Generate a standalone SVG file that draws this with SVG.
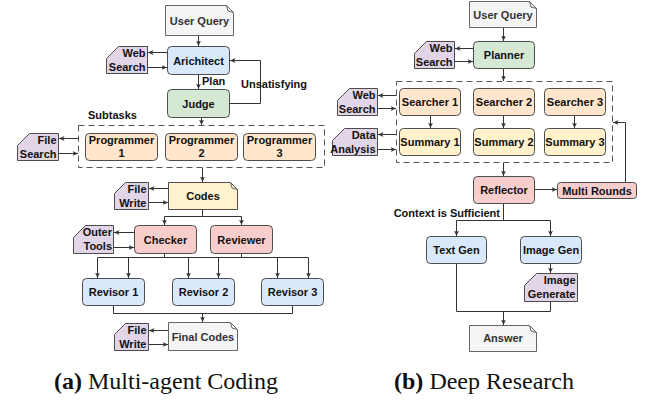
<svg xmlns="http://www.w3.org/2000/svg" width="645" height="402" viewBox="0 0 645 402">
  <style>
    .box { stroke: #4d4d4d; stroke-width: 1; }
    .gray { fill: #f5f5f5; stroke: #666666; }
    .blue { fill: #dae8fc; }
    .green { fill: #d5e8d4; }
    .orange { fill: #ffe6cc; }
    .yellow { fill: #fff2cc; }
    .red { fill: #f8cecc; }
    .purple { fill: #e1d5e7; }
    .fold { fill: none; stroke: #666666; stroke-width: 1; }
    .t { font-family: "Liberation Sans", Arial, sans-serif; font-weight: bold; font-size: 11px; fill: #111111; text-anchor: middle; }
    .tn { fill: #333333; }
    .tr { text-anchor: end; }
    .tl { text-anchor: start; }
    .edge { fill: none; stroke: #333333; stroke-width: 1; }
    .arr { marker-end: url(#ah); }
    .dash { fill: none; stroke: #555555; stroke-width: 1; stroke-dasharray: 6 4; }
    .cap { font-family: "Liberation Serif", "Times New Roman", serif; font-size: 24px; fill: #111111; text-anchor: middle; }
  </style>
  <defs>
    <marker id="ah" markerWidth="6" markerHeight="6" refX="5.5" refY="3" orient="auto" markerUnits="userSpaceOnUse">
      <path d="M0,0.5 L5.5,3 L0,5.5 L1.5,3 Z" fill="#333333"/>
    </marker>
  </defs>

  <rect width="645" height="402" fill="#ffffff"/>

  <!-- ===== (a) Multi-agent Coding ===== -->
  <g id="connectors-a">
    <path class="edge arr" d="M198.5,35.5 V46"/>
    <path class="edge arr" d="M167,52.5 H148"/>
    <path class="edge arr" d="M147.5,67.5 H167"/>
    <path class="edge arr" d="M198.5,74.5 V89"/>
    <path class="edge arr" d="M229.5,103.5 H260.5 V60.5 H230"/>
    <path class="edge arr" d="M201.5,117.5 V125"/>
    <path class="edge arr" d="M78.5,138.5 H59"/>
    <path class="edge arr" d="M58.5,153.5 H78"/>
    <path class="edge arr" d="M202.5,167.5 V182"/>
    <path class="edge arr" d="M168.5,188.5 H149"/>
    <path class="edge arr" d="M148.5,202.5 H168"/>
    <path class="edge arr" d="M202.5,209.5 V216.5 H164.5 V225"/>
    <path class="edge arr" d="M202.5,216.5 H241.5 V225"/>
    <path class="edge arr" d="M134.5,232.5 H114"/>
    <path class="edge arr" d="M113.5,247.5 H134"/>
    <path class="edge" d="M164.5,253.5 V257.5 M241.5,253.5 V257.5 M97.5,257.5 H308.5"/>
    <path class="edge arr" d="M97.5,257.5 V278"/>
    <path class="edge arr" d="M128.5,257.5 V278"/>
    <path class="edge arr" d="M188.5,257.5 V278"/>
    <path class="edge arr" d="M218.5,257.5 V278"/>
    <path class="edge arr" d="M277.5,257.5 V278"/>
    <path class="edge arr" d="M308.5,257.5 V278"/>
    <path class="edge" d="M113.5,305.5 V313.5 H292.5 V305.5"/>
    <path class="edge arr" d="M202.5,313.5 V322"/>
    <path class="edge arr" d="M168.5,330.5 H149"/>
    <path class="edge arr" d="M148.5,344.5 H168"/>
    <text class="t tl" x="202" y="85">Plan</text>
    <text class="t tl" x="241" y="88">Unsatisfying</text>
    <text class="t tl" x="88" y="119">Subtasks</text>
  </g>

  <g id="user-query-a">
    <path class="box gray" d="M165.5,5.5 H226.5 L233.5,12.5 V35.5 H165.5 Z"/>
    <path class="fold" d="M226.5,5.5 L228,11 L233.5,12.5"/>
    <text class="t tn" x="199.5" y="24.5">User Query</text>
  </g>
  <g id="web-search-a">
    <path class="box purple" d="M118.5,46.5 H147.5 V73.5 H106.5 V58.5 Z"/>
    <text class="t tr" x="145.5" y="57">Web</text>
    <text class="t tr" x="145.5" y="70.5">Search</text>
  </g>
  <g id="architect">
    <rect class="box blue" x="167.5" y="46.5" width="62" height="28" rx="4"/>
    <text class="t" x="198.5" y="64.5">Arichitect</text>
  </g>
  <g id="judge">
    <rect class="box green" x="167.5" y="89.5" width="62" height="28" rx="4"/>
    <text class="t" x="198.5" y="107.5">Judge</text>
  </g>
  <g id="subtasks">
    <rect class="dash" x="78.5" y="125.5" width="246" height="42"/>
  </g>
  <g id="programmer-1">
    <rect class="box orange" x="85.5" y="133.5" width="72" height="27" rx="4"/>
    <text class="t" x="121.5" y="144">Programmer</text>
    <text class="t" x="121.5" y="157">1</text>
  </g>
  <g id="programmer-2">
    <rect class="box orange" x="165.5" y="133.5" width="72" height="27" rx="4"/>
    <text class="t" x="201.5" y="144">Programmer</text>
    <text class="t" x="201.5" y="157">2</text>
  </g>
  <g id="programmer-3">
    <rect class="box orange" x="243.5" y="133.5" width="72" height="27" rx="4"/>
    <text class="t" x="279.5" y="144">Programmer</text>
    <text class="t" x="279.5" y="157">3</text>
  </g>
  <g id="file-search">
    <path class="box purple" d="M29.5,133.5 H58.5 V160.5 H17.5 V145.5 Z"/>
    <text class="t tr" x="56.5" y="143.5">File</text>
    <text class="t tr" x="56.5" y="157.5">Search</text>
  </g>
  <g id="codes">
    <path class="box yellow" d="M168.5,182.5 H230.5 L237.5,189.5 V209.5 H168.5 Z"/>
    <path class="fold" d="M230.5,182.5 L232,188 L237.5,189.5"/>
    <text class="t" x="203" y="200">Codes</text>
  </g>
  <g id="file-write-1">
    <path class="box purple" d="M125.5,182.5 H148.5 V209.5 H114.5 V193.5 Z"/>
    <text class="t tr" x="146.5" y="192.5">File</text>
    <text class="t tr" x="146.5" y="206.5">Write</text>
  </g>
  <g id="checker">
    <rect class="box red" x="134.5" y="225.5" width="62" height="28" rx="4"/>
    <text class="t" x="165.5" y="243.5">Checker</text>
  </g>
  <g id="reviewer">
    <rect class="box red" x="210.5" y="225.5" width="62" height="28" rx="4"/>
    <text class="t" x="241.5" y="243.5">Reviewer</text>
  </g>
  <g id="outer-tools">
    <path class="box purple" d="M85.5,225.5 H113.5 V253.5 H73.5 V237.5 Z"/>
    <text class="t tr" x="112" y="235.5">Outer</text>
    <text class="t tr" x="112" y="249.5">Tools</text>
  </g>
  <g id="revisor-1">
    <rect class="box blue" x="82.5" y="278.5" width="62" height="27" rx="4"/>
    <text class="t" x="113.5" y="296">Revisor 1</text>
  </g>
  <g id="revisor-2">
    <rect class="box blue" x="172.5" y="278.5" width="62" height="27" rx="4"/>
    <text class="t" x="203.5" y="296">Revisor 2</text>
  </g>
  <g id="revisor-3">
    <rect class="box blue" x="261.5" y="278.5" width="62" height="27" rx="4"/>
    <text class="t" x="292.5" y="296">Revisor 3</text>
  </g>
  <g id="final-codes">
    <path class="box gray" d="M168.5,322.5 H230.5 L237.5,329.5 V350.5 H168.5 Z"/>
    <path class="fold" d="M230.5,322.5 L232,328 L237.5,329.5"/>
    <text class="t tn" x="203" y="340.5">Final Codes</text>
  </g>
  <g id="file-write-2">
    <path class="box purple" d="M125.5,323.5 H148.5 V350.5 H114.5 V334.5 Z"/>
    <text class="t tr" x="146.5" y="333.5">File</text>
    <text class="t tr" x="146.5" y="347.5">Write</text>
  </g>

  <!-- ===== (b) Deep Research ===== -->
  <g id="connectors-b">
    <path class="edge arr" d="M503.5,27.5 V41"/>
    <path class="edge arr" d="M473.5,48.5 H455"/>
    <path class="edge arr" d="M454.5,61.5 H473"/>
    <path class="edge arr" d="M503.5,68.5 V81"/>
    <path class="edge arr" d="M396.5,95.5 H378"/>
    <path class="edge arr" d="M377.5,108.5 H396"/>
    <path class="edge arr" d="M396.5,134.5 H378"/>
    <path class="edge arr" d="M377.5,149.5 H396"/>
    <path class="edge arr" d="M430.5,115.5 V128"/>
    <path class="edge arr" d="M503.5,115.5 V128"/>
    <path class="edge arr" d="M574.5,115.5 V128"/>
    <path class="edge arr" d="M503.5,162.5 V176"/>
    <path class="edge arr" d="M534.5,189.5 H557"/>
    <path class="edge arr" d="M625.5,182.5 V122.5 H613"/>
    <path class="edge arr" d="M503.5,203.5 V220.5 H456.5 V236"/>
    <path class="edge arr" d="M503.5,220.5 H550.5 V236"/>
    <path class="edge arr" d="M550.5,263.5 V273"/>
    <path class="edge" d="M456.5,263.5 V311.5 H550.5 V301.5"/>
    <path class="edge arr" d="M503.5,311.5 V325"/>
    <text class="t tr" x="500" y="216.5">Context is Sufficient</text>
  </g>

  <g id="user-query-b">
    <path class="box gray" d="M469.5,1.5 H529.5 L536.5,8.5 V27.5 H469.5 Z"/>
    <path class="fold" d="M529.5,1.5 L531,7 L536.5,8.5"/>
    <text class="t tn" x="503" y="18.5">User Query</text>
  </g>
  <g id="planner">
    <rect class="box green" x="473.5" y="41.5" width="61" height="27" rx="4"/>
    <text class="t" x="504" y="59">Planner</text>
  </g>
  <g id="web-search-b1">
    <path class="box purple" d="M426.5,41.5 H454.5 V68.5 H414.5 V53.5 Z"/>
    <text class="t tr" x="452.5" y="51.5">Web</text>
    <text class="t tr" x="452.5" y="65.5">Search</text>
  </g>
  <g id="search-group">
    <rect class="dash" x="396.5" y="81.5" width="216" height="81"/>
  </g>
  <g id="searcher-1">
    <rect class="box orange" x="399.5" y="88.5" width="61" height="27" rx="4"/>
    <text class="t" x="430" y="106">Searcher 1</text>
  </g>
  <g id="searcher-2">
    <rect class="box orange" x="473.5" y="88.5" width="61" height="27" rx="4"/>
    <text class="t" x="504" y="106">Searcher 2</text>
  </g>
  <g id="searcher-3">
    <rect class="box orange" x="544.5" y="88.5" width="61" height="27" rx="4"/>
    <text class="t" x="575" y="106">Searcher 3</text>
  </g>
  <g id="summary-1">
    <rect class="box yellow" x="399.5" y="128.5" width="61" height="27" rx="4"/>
    <text class="t" x="430" y="146">Summary 1</text>
  </g>
  <g id="summary-2">
    <rect class="box yellow" x="473.5" y="128.5" width="61" height="27" rx="4"/>
    <text class="t" x="504" y="146">Summary 2</text>
  </g>
  <g id="summary-3">
    <rect class="box yellow" x="544.5" y="128.5" width="61" height="27" rx="4"/>
    <text class="t" x="575" y="146">Summary 3</text>
  </g>
  <g id="web-search-b2">
    <path class="box purple" d="M349.5,88.5 H377.5 V115.5 H337.5 V100.5 Z"/>
    <text class="t tr" x="375.5" y="98.5">Web</text>
    <text class="t tr" x="375.5" y="112.5">Search</text>
  </g>
  <g id="data-analysis">
    <path class="box purple" d="M344.5,128.5 H377.5 V155.5 H332.5 V140.5 Z"/>
    <text class="t tr" x="375.5" y="138.5">Data</text>
    <text class="t tr" x="375.5" y="152.5">Analysis</text>
  </g>
  <g id="reflector">
    <rect class="box red" x="473.5" y="176.5" width="61" height="27" rx="4"/>
    <text class="t" x="504" y="194">Reflector</text>
  </g>
  <g id="multi-rounds">
    <rect class="box red" x="557.5" y="182.5" width="79" height="16" rx="3"/>
    <text class="t" x="597" y="194.5">Multi Rounds</text>
  </g>
  <g id="text-gen">
    <rect class="box blue" x="426.5" y="236.5" width="60" height="27" rx="4"/>
    <text class="t" x="456.5" y="254">Text Gen</text>
  </g>
  <g id="image-gen">
    <rect class="box blue" x="520.5" y="236.5" width="61" height="27" rx="4"/>
    <text class="t" x="551" y="254">Image Gen</text>
  </g>
  <g id="image-generate">
    <path class="box purple" d="M536.5,273.5 H577.5 V301.5 H524.5 V285.5 Z"/>
    <text class="t tr" x="575.5" y="283.5">Image</text>
    <text class="t tr" x="575.5" y="297.5">Generate</text>
  </g>
  <g id="answer">
    <path class="box gray" d="M469.5,325.5 H529.5 L536.5,332.5 V351.5 H469.5 Z"/>
    <path class="fold" d="M529.5,325.5 L531,331 L536.5,332.5"/>
    <text class="t tn" x="503" y="342">Answer</text>
  </g>

  <!-- captions -->
  <text class="cap" x="166" y="389"><tspan font-weight="bold">(a)</tspan> Multi-agent Coding</text>
  <text class="cap" x="484" y="389"><tspan font-weight="bold">(b)</tspan> Deep Research</text>
</svg>
